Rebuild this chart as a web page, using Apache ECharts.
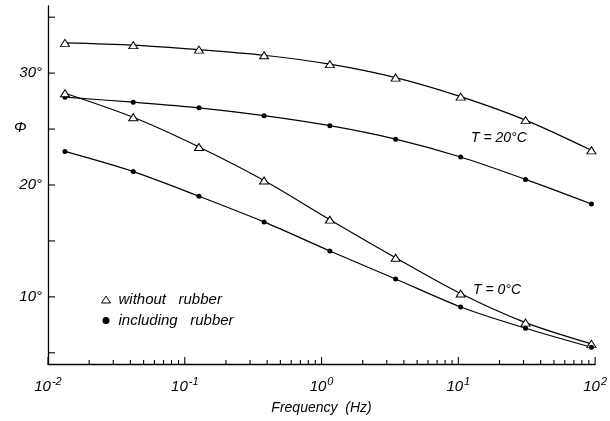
<!DOCTYPE html>
<html>
<head>
<meta charset="utf-8">
<script src="https://cdn.jsdelivr.net/npm/echarts@6/dist/echarts.min.js"></script>
<style>html,body{margin:0;padding:0;background:#fff}#c{width:610px;height:421px}</style>
</head>
<body>
<div id="c"></div>
<script>
// ---- data ----
var frequency = [0.0133, 0.042, 0.127, 0.38, 1.15, 3.48, 10.4, 31, 94];
var withoutRubber20 = [32.7, 32.5, 32.1, 31.6, 30.8, 29.6, 27.9, 25.8, 23.1];
var includingRubber20 = [27.85, 27.4, 26.9, 26.2, 25.3, 24.1, 22.5, 20.5, 18.3];
var withoutRubber0 = [28.2, 26.05, 23.4, 20.4, 16.9, 13.5, 10.3, 7.7, 5.8];
var includingRubber0 = [23.0, 21.2, 19.0, 16.7, 14.1, 11.6, 9.1, 7.2, 5.5];
var yTickValues = [5, 10, 15, 20, 25, 30, 35];
var yLabelValues = [10, 20, 30];
var xMajorTicks = [0.01, 0.1, 1, 10, 100];
var decades = [0.01, 0.1, 1, 10];
var minorMultipliers = [2, 3, 4, 5, 6, 7, 8, 9];
var legendNames = ['without   rubber', 'including   rubber'];

var xMinorTicks = [];
decades.forEach(function (d) { minorMultipliers.forEach(function (m) { xMinorTicks.push(+(d * m).toPrecision(3)); }); });

function pairs(ys) { return frequency.map(function (f, i) { return [f, ys[i]]; }); }

var FONT = '"Liberation Sans", Arial, sans-serif';
var X_MIN = 0.01, X_MAX = 100, Y_MIN = 4, Y_MAX = 36;

function lineSeries(name, ys, hollow) {
  return {
    name: name,
    type: 'line',
    smooth: 0.3,
    data: pairs(ys),
    symbol: hollow ? 'triangle' : 'circle',
    symbolSize: hollow ? [9, 7] : 5,
    itemStyle: hollow ? { color: '#fff', borderColor: '#000', borderWidth: 1 } : { color: '#000', borderColor: '#000', borderWidth: 0 },
    lineStyle: { color: '#000', width: 1.2 },
    z: 3
  };
}

// tick marks drawn through the axes' own scales
function xTickSeries(values, len) {
  return {
    type: 'custom', silent: true, clip: false, z: 4,
    data: values.map(function (v) { return [v, Y_MIN]; }),
    encode: { x: 0, y: 1 },
    renderItem: function (params, api) {
      var p = api.coord([api.value(0), api.value(1)]);
      return { type: 'line', shape: { x1: p[0], y1: p[1], x2: p[0], y2: p[1] - len }, style: { stroke: '#000', lineWidth: 1.1 } };
    }
  };
}
function yTickSeries(values, len) {
  return {
    type: 'custom', silent: true, clip: false, z: 4,
    data: values.map(function (v) { return [X_MIN, v]; }),
    encode: { x: 0, y: 1 },
    renderItem: function (params, api) {
      var p = api.coord([api.value(0), api.value(1)]);
      return { type: 'line', shape: { x1: p[0], y1: p[1], x2: p[0] + len, y2: p[1] }, style: { stroke: '#000', lineWidth: 1.1 } };
    }
  };
}

var chart = echarts.init(document.getElementById('c'), null, { renderer: 'canvas' });
chart.setOption({
  animation: false,
  backgroundColor: '#fff',
  grid: { left: 48, right: 13, top: 6, bottom: 57, containLabel: false },
  xAxis: {
    type: 'log',
    logBase: 10,
    min: X_MIN,
    max: X_MAX,
    splitLine: { show: false },
    axisLine: { show: true, lineStyle: { color: '#000', width: 1.3 } },
    axisTick: { show: false },
    axisLabel: {
      margin: 12,
      formatter: function (v) { var e = Math.round(Math.log10(v)); return '{a|10}{b|' + e + '}'; },
      rich: {
        a: { fontFamily: FONT, fontStyle: 'italic', fontSize: 15, color: '#000' },
        b: { fontFamily: FONT, fontStyle: 'italic', fontSize: 11, color: '#000', padding: [0, 0, 10, 1] }
      }
    },
    name: 'Frequency  (Hz)',
    nameLocation: 'middle',
    nameGap: 37,
    nameTextStyle: { fontFamily: FONT, fontStyle: 'italic', fontSize: 14, color: '#000' }
  },
  yAxis: {
    type: 'value',
    min: Y_MIN,
    max: Y_MAX,
    splitLine: { show: false },
    axisLine: { show: true, lineStyle: { color: '#000', width: 1.3 } },
    axisTick: { show: false },
    axisLabel: {
      customValues: yLabelValues,
      margin: 6,
      fontFamily: FONT, fontStyle: 'italic', fontSize: 15, color: '#000',
      formatter: function (v) { return v + '°'; }
    }
  },
  legend: {
    orient: 'vertical',
    left: 96,
    top: 287,
    itemGap: 6,
    itemWidth: 9,
    itemHeight: 7,
    data: [
      { name: legendNames[0], icon: 'triangle', itemStyle: { color: '#fff', borderColor: '#000', borderWidth: 1 } },
      { name: legendNames[1], icon: 'circle', itemStyle: { color: '#000', borderWidth: 0 } }
    ],
    textStyle: { fontFamily: FONT, fontStyle: 'italic', fontSize: 15, color: '#000', padding: [0, 0, 0, 3] }
  },
  graphic: [
    { type: 'text', left: 14, top: 120, style: { text: 'Φ', font: 'italic 15px ' + FONT, fill: '#000' } },
    { type: 'text', left: 471, top: 131, style: { text: 'T = 20°C', font: 'italic 14px ' + FONT, fill: '#000' } },
    { type: 'text', left: 473, top: 283, style: { text: 'T = 0°C', font: 'italic 14px ' + FONT, fill: '#000' } }
  ],
  series: [
    lineSeries(legendNames[0], withoutRubber20, true),
    lineSeries(legendNames[1], includingRubber20, false),
    lineSeries(legendNames[0], withoutRubber0, true),
    lineSeries(legendNames[1], includingRubber0, false),
    xTickSeries(xMajorTicks, 7),
    xTickSeries(xMinorTicks, 4),
    yTickSeries(yTickValues, 7)
  ]
});
</script>
</body>
</html>
